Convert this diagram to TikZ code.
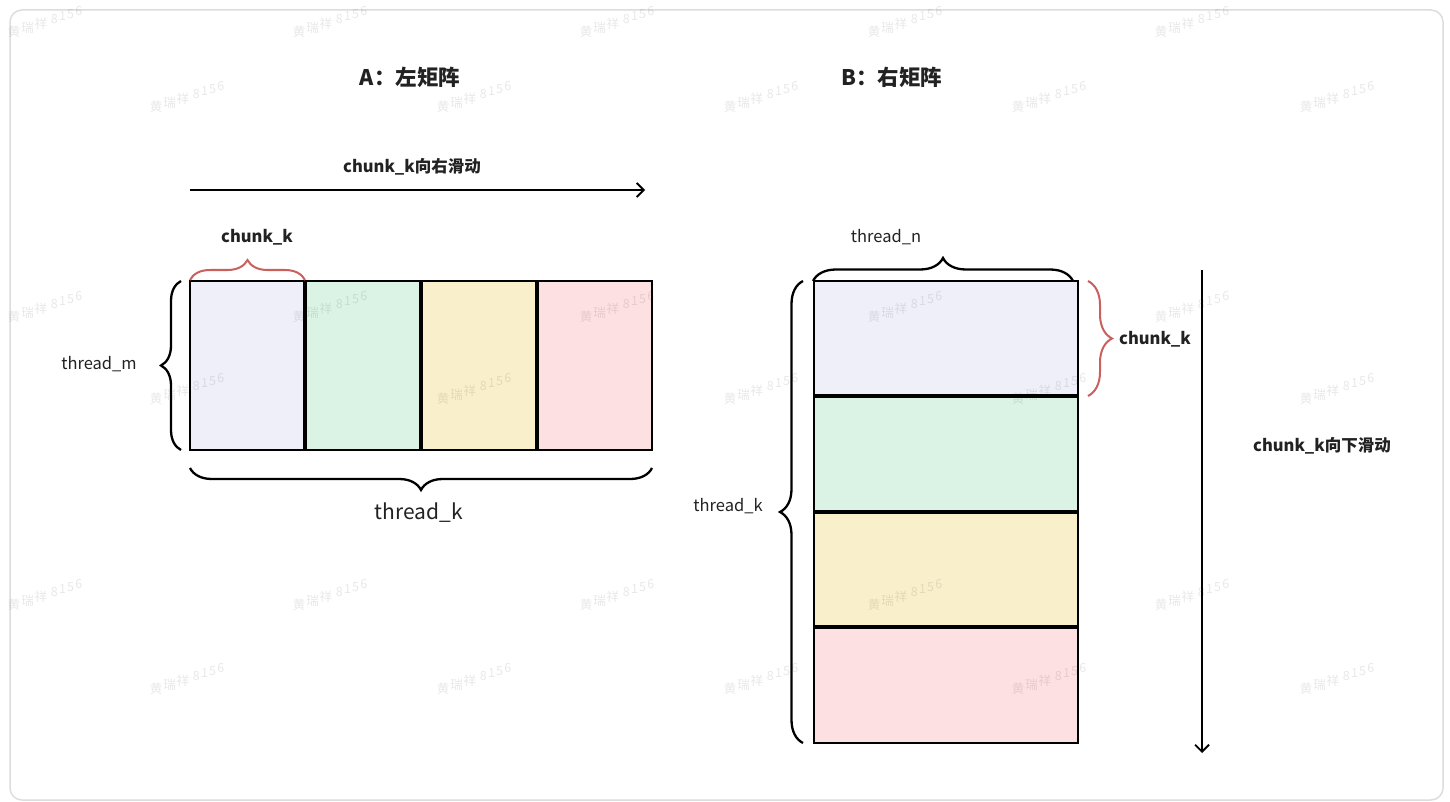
\documentclass[tikz,border=0pt]{standalone}
\usepackage{fontspec}
\setmainfont{Noto Sans CJK SC}
\usetikzlibrary{decorations.pathreplacing,arrows.meta}
\definecolor{txt}{HTML}{222222}
\definecolor{cellA}{HTML}{EEEFF9}
\definecolor{cellB}{HTML}{DAF3E4}
\definecolor{cellC}{HTML}{F9EFCB}
\definecolor{cellD}{HTML}{FDE0E1}
\definecolor{bracered}{HTML}{C9605E}
\definecolor{framegray}{HTML}{DDDDDD}
\tikzset{
  cell/.style={draw=black,line width=2pt},
  divider/.style={draw=black,line width=3.5pt},
  blackbrace/.style={draw=black,line width=2.3pt,decorate,decoration={brace,amplitude=#1}},
  redbrace/.style={draw=bracered,line width=2pt,decorate,decoration={brace,amplitude=#1}},
  slide/.style={draw=black,line width=1.8pt,-{Straight Barb[length=7pt,width=14pt,line width=1.8pt]}},
  title/.style={font=\fontsize{21.5}{24}\selectfont\bfseries,text=txt},
  boldlab/.style={font=\fontsize{16.5}{19}\selectfont\bfseries,text=txt},
  plainlab/.style={font=\fontsize{16.5}{19}\selectfont,text=txt},
  biglab/.style={font=\fontsize{21}{24}\selectfont,text=txt},
  wmglyph/.style={font=\fontsize{12.5}{14}\selectfont,text=black,opacity=0.09,inner sep=0pt,anchor=base west},
}
\newcommand\wmk[2]{%
  \foreach \ch/\dd in {黄/0,瑞/14,祥/28,8/45,1/53.5,5/62,6/70.5}{%
    \node[wmglyph] at ({#1-37.3+0.956*\dd},{#2+11.4-0.292*\dd}) {\ch};
  }%
}
\begin{document}
\begin{tikzpicture}[x=1pt,y=-1pt]
\useasboundingbox (0,0) rectangle (1450,802);
\fill[white] (0,0) rectangle (1450,802);
\draw[framegray,line width=1.5pt,rounded corners=12pt] (10,10) rectangle (1443,800);

% titles
\node[title] (tA) at (410,77) {A：左矩阵};
\node[title] (tB) at (892,77) {B：右矩阵};

% ---------------- left matrix ----------------
\coordinate (a0) at (190,281);
\coordinate (a1) at (305,281);
\coordinate (a2) at (421,281);
\coordinate (a3) at (537,281);
\coordinate (a4) at (652,281);
\coordinate (b0) at (190,450);
\coordinate (b1) at (305,450);
\coordinate (b2) at (421,450);
\coordinate (b3) at (537,450);
\coordinate (b4) at (652,450);
\fill[cellA] (a0) rectangle (b1);
\fill[cellB] (a1) rectangle (b2);
\fill[cellC] (a2) rectangle (b3);
\fill[cellD] (a3) rectangle (b4);
\draw[cell] (a0) rectangle (b4);
\draw[divider] (a1) -- (b1);
\draw[divider] (a2) -- (b2);
\draw[divider] (a3) -- (b3);

% slide arrow right
\coordinate (sr0) at (190,190);
\coordinate (sr1) at (645,190);
\draw[slide] (sr0) -- (sr1);
\node[boldlab] (slr) at (412,167) {chunk\_k向右滑动};

% chunk_k brace top
\coordinate (ck0) at (190,280);
\coordinate (ck1) at (305,280);
\draw[redbrace=20pt] (ck0) -- (ck1);
\node[boldlab] (ckA) at (257,237) {chunk\_k};

% thread_m brace
\coordinate (tm0) at (181,450);
\coordinate (tm1) at (181,281);
\draw[blackbrace=20pt] (tm0) -- (tm1);
\node[plainlab] (tmL) at (99,364) {thread\_m};

% thread_k brace bottom
\coordinate (tk0) at (652,468);
\coordinate (tk1) at (190,468);
\draw[blackbrace=22pt] (tk0) -- (tk1);
\node[biglab] (tkA) at (419,513) {thread\_k};

% ---------------- right matrix ----------------
\coordinate (r0) at (814,281);
\coordinate (r1) at (814,396);
\coordinate (r2) at (814,512);
\coordinate (r3) at (814,627);
\coordinate (r4) at (814,743);
\coordinate (s0) at (1078,281);
\coordinate (s1) at (1078,396);
\coordinate (s2) at (1078,512);
\coordinate (s3) at (1078,627);
\coordinate (s4) at (1078,743);
\fill[cellA] (r0) rectangle (s1);
\fill[cellB] (r1) rectangle (s2);
\fill[cellC] (r2) rectangle (s3);
\fill[cellD] (r3) rectangle (s4);
\draw[cell] (r0) rectangle (s4);
\draw[divider] (r1) -- (s1);
\draw[divider] (r2) -- (s2);
\draw[divider] (r3) -- (s3);

% thread_n brace
\coordinate (tn0) at (813,281);
\coordinate (tn1) at (1073,281);
\draw[blackbrace=23pt] (tn0) -- (tn1);
\node[plainlab] (tnL) at (886,237) {thread\_n};

% thread_k brace left of B
\coordinate (tb0) at (803,743);
\coordinate (tb1) at (803,281);
\draw[blackbrace=23pt] (tb0) -- (tb1);
\node[plainlab] (tkB) at (728,506) {thread\_k};

% chunk_k brace right
\coordinate (cr0) at (1088,281);
\coordinate (cr1) at (1088,396);
\draw[redbrace=24pt] (cr0) -- (cr1);
\node[boldlab] (ckB) at (1155,339) {chunk\_k};

% slide arrow down
\coordinate (sd0) at (1202,270);
\coordinate (sd1) at (1202,753);
\draw[slide] (sd0) -- (sd1);
\node[boldlab] (sld) at (1322,446) {chunk\_k向下滑动};

% ---------------- watermarks ----------------
\foreach \wx in {45,330,617,905,1192}{
  \foreach \wy in {25,310,598}{
    \wmk{\wx}{\wy}
  }
}
\foreach \wx in {187,474,761,1049,1337}{
  \foreach \wy in {100,392,682}{
    \wmk{\wx}{\wy}
  }
}
\end{tikzpicture}
\end{document}
